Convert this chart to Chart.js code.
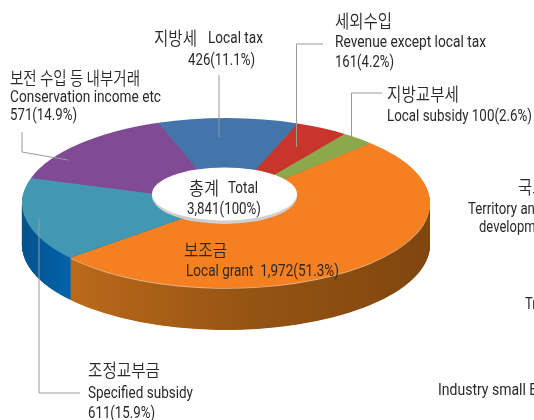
<!DOCTYPE html>
<html lang="ko"><head><meta charset="utf-8">
<style>html,body{margin:0;padding:0;background:#fff;overflow:hidden}canvas{display:block}</style>
<script src="https://cdn.jsdelivr.net/npm/chart.js@4"></script></head>
<body><canvas id="c" width="534" height="420"></canvas>
<script>
const categories = ['보조금','조정교부금','보전 수입 등 내부거래','지방세','세외수입','지방교부세'];
const englishNames = ['Local grant','Specified subsidy','Conservation income etc','Local tax','Revenue except local tax','Local subsidy'];
const values = [1972,611,571,426,161,100];
const percents = [51.3,15.9,14.9,11.1,4.2,2.6];
const topColors = ['#f58022','#4297b2','#804a94','#4375ab','#c8352b','#8ba94b'];
const total = 3841;
const croppedLabels = ['국토및지역개발','Territory and regional','development','Transportation','Industry small Business'];

const K = '"Noto Sans CJK KR"', L = 'Roboto,"Noto Sans"';
const tilt = 85/204, centerY = 203, depth = 42;
const amount = i => values[i].toLocaleString('en-US') + '(' + percents[i] + '%)';

// [text, x, centre y, fitted width, font, size]
const texts = [
 [categories[3],154,37,43,K,18],[englishNames[3],208,37,55,L,17],[amount(3),188,59,67,L,17],
 [categories[4],335,20,57,K,18],[englishNames[4],335,41,151,L,17],[amount(4),335,61,59,L,17],
 [categories[5],387,93,72,K,18],[englishNames[5]+' '+amount(5),387,115,145,L,17],
 [categories[2],10,77,130,K,18],[englishNames[2],10,96,151,L,17],[amount(2),10,114,67,L,17],
 ['총계',189,187,30,K,18],['Total',228,187,30,L,17],[total.toLocaleString('en-US')+'(100%)',187,208,74,L,17],
 [categories[0],184,249,43,K,18],[englishNames[0]+'  '+amount(0),186,270,153,L,17],
 [categories[1],88,369,72,K,18],[englishNames[1],88,392,105,L,17],[amount(1),88,412,67,L,17],
 [croppedLabels[0],518,186,100,K,18],[croppedLabels[1],468,208,125,L,17],[croppedLabels[2],479,226,75,L,17],
 [croppedLabels[3],525,303,85,L,17],[croppedLabels[4],438,389,148,L,17],
];
const leaders = [
 [[219,75],[219,137]],
 [[323,44],[296.5,44],[296.5,147]],
 [[382,93],[351.5,93],[351.5,140]],
 [[22,132],[22,152],[68,160]],
 [[80,393],[39,393],[39,219]],
];

const pie3d = {
 id:'pie3d',
 beforeDatasetsDraw(chart){
  const ctx = chart.ctx, arcs = chart.getDatasetMeta(0).data, a0 = arcs[0];
  const cx = a0.x, cy = a0.y;
  const place = dy => { ctx.translate(cx, centerY + dy); ctx.scale(1, tilt); ctx.translate(-cx, -cy); };
  const g = (stops) => { const l = ctx.createLinearGradient(22,0,430,0); stops.forEach(s=>l.addColorStop(s[0],s[1])); return l; };
  const orangeSide = g([[0,'#c06c1c'],[0.122,'#bb691a'],[0.55,'#965413'],[1,'#80460f']]);
  const tealSide = g([[0,'#04528c'],[0.122,'#0063ad']]);
  const paint = (arc, fill) => {
    const p = Object.create(arc);
    Object.defineProperty(p,'options',{value:{backgroundColor:fill,borderColor:fill,borderWidth:0,borderAlign:'center',offset:0,spacing:0,borderRadius:0,borderDash:[],borderDashOffset:0,borderJoinStyle:'round',circular:true}});
    p.draw(ctx);
  };
  for(let d=depth; d>1; d-=0.5){
    ctx.save(); place(d);
    arcs.forEach((arc,i)=>paint(arc, i===0?orangeSide:i===1?tealSide:'#777'));
    ctx.restore();
  }
  ctx.save(); place(0.8);
  paint(arcs[0],'#e3b288');
  ctx.restore();
  ctx.save(); place(0);
  arcs.forEach((arc,i)=>paint(arc, topColors[i]));
  ctx.restore();
  // centre hole
  ctx.fillStyle='#cfd0d1';
  ctx.beginPath(); ctx.ellipse(224.5,196,72.5,28,0,0,Math.PI*2); ctx.fill();
  ctx.fillStyle='#fff';
  ctx.beginPath(); ctx.ellipse(224.5,194,72.5,26.5,0,0,Math.PI*2); ctx.fill();
  return false;
 },
 afterDraw(chart){
  const ctx = chart.ctx;
  ctx.save();
  ctx.strokeStyle='#9a9a9a'; ctx.lineWidth=1;
  leaders.forEach(pts=>{ctx.beginPath();pts.forEach((p,i)=>i?ctx.lineTo(p[0],p[1]):ctx.moveTo(p[0],p[1]));ctx.stroke();});
  ctx.fillStyle='#2b2829'; ctx.textBaseline='middle'; ctx.textAlign='left';
  texts.forEach(t=>{ctx.font=`${t[4]===K?350:400} ${t[5]}px ${t[4]}`;ctx.fillText(t[0],t[1],t[2]+(t[4]===K?1:1.5),t[3]);});
  ctx.restore();
 }
};

new Chart(document.getElementById('c'),{
 type:'doughnut',
 data:{labels:categories,datasets:[{data:values,backgroundColor:topColors,borderWidth:0}]},
 options:{responsive:false,animation:false,cutout:0,rotation:45,
  layout:{padding:{left:22,right:104,top:6,bottom:6}},
  plugins:{legend:{display:false},tooltip:{enabled:false}},events:[]},
 plugins:[pie3d]
});
</script></body></html>
